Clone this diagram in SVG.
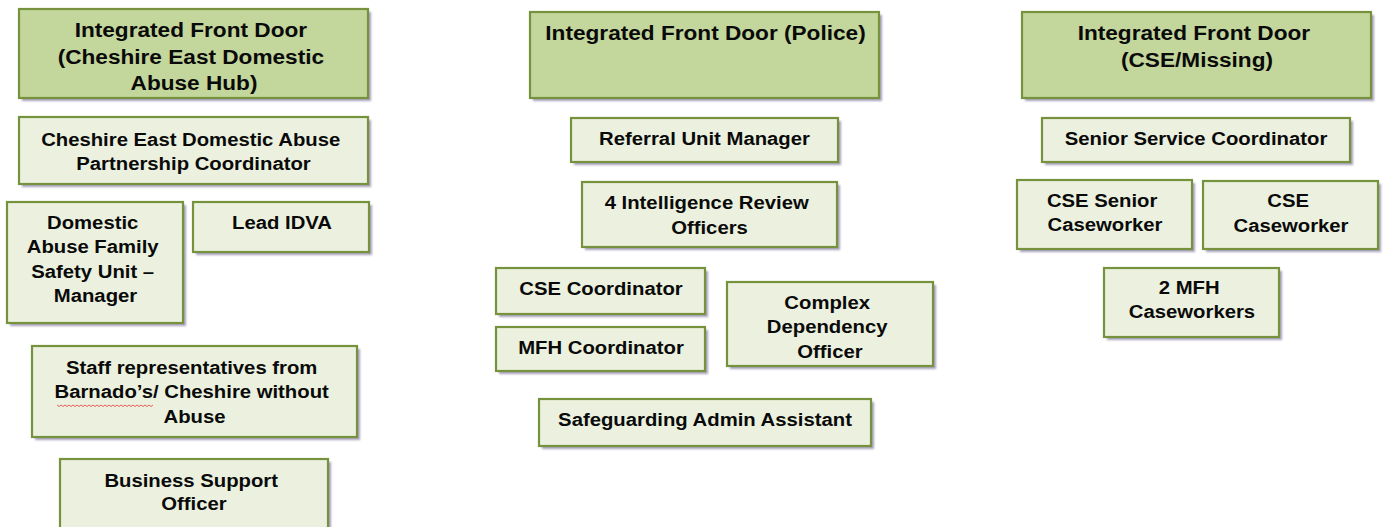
<svg xmlns="http://www.w3.org/2000/svg" width="1386" height="527" viewBox="0 0 1386 527">
  <defs>
    <filter id="soft" x="-5%" y="-5%" width="110%" height="110%">
      <feGaussianBlur stdDeviation="0.8"/>
    </filter>
  </defs>
  <style>
    .shadow { fill: #a59fb9; filter: url(#soft); }
    .head { fill: #c3d69b; stroke: #76923c; stroke-width: 2.2; }
    .box { fill: #ebf1de; stroke: #76923c; stroke-width: 2.2; }
    text { font-family: "Liberation Sans", Arial, sans-serif; font-weight: bold; fill: #0a0a0a; text-anchor: middle; }
    .ht { font-size: 19.5px; }
    .nt { font-size: 17.5px; }
    .squiggle { fill: none; stroke: #e8605c; stroke-width: 1; }
  </style>
  <rect width="1386" height="527" fill="#ffffff"/>

  <!-- Cheshire East Domestic Abuse Hub column -->
  <g id="hub-head">
    <rect class="shadow" x="22" y="12" width="349" height="89"/>
    <rect class="head" x="19" y="9" width="349" height="89"/>
    <text class="ht" transform="translate(194,0) scale(1.16,1)">
      <tspan x="0" y="37.5">Integrated Front Door</tspan>
      <tspan x="0" y="64">(Cheshire East Domestic</tspan>
      <tspan x="0" y="90.5">Abuse Hub)</tspan>
    </text>
  </g>
  <g id="hub-coordinator">
    <rect class="shadow" x="22" y="120" width="349" height="67"/>
    <rect class="box" x="19" y="117" width="349" height="67"/>
    <text class="nt" transform="translate(193.5,0) scale(1.16,1)">
      <tspan x="0" y="146.5">Cheshire East Domestic Abuse</tspan>
      <tspan x="0" y="170.5">Partnership Coordinator</tspan>
    </text>
  </g>
  <g id="hub-family-safety">
    <rect class="shadow" x="10" y="205" width="176" height="121"/>
    <rect class="box" x="7" y="202" width="176" height="121"/>
    <text class="nt" transform="translate(95.5,0) scale(1.16,1)">
      <tspan x="0" y="229">Domestic</tspan>
      <tspan x="0" y="253.5">Abuse Family</tspan>
      <tspan x="0" y="278">Safety Unit –</tspan>
      <tspan x="0" y="302.5">Manager</tspan>
    </text>
  </g>
  <g id="hub-lead-idva">
    <rect class="shadow" x="196" y="205" width="176" height="50"/>
    <rect class="box" x="193" y="202" width="176" height="50"/>
    <text class="nt" transform="translate(282,0) scale(1.16,1)">
      <tspan x="0" y="229">Lead IDVA</tspan>
    </text>
  </g>
  <g id="hub-staff-reps">
    <rect class="shadow" x="35" y="349" width="325" height="91"/>
    <rect class="box" x="32" y="346" width="325" height="91"/>
    <text class="nt" transform="translate(194.5,0) scale(1.16,1)">
      <tspan x="0" y="374.5">Staff representatives from</tspan>
      <tspan x="0" y="398.5">Barnado’s/ Cheshire without</tspan>
      <tspan x="0" y="423">Abuse</tspan>
    </text>
    <path class="squiggle" d="M57 405 l2 1.5 l2 -1.5 l2 1.5 l2 -1.5 l2 1.5 l2 -1.5 l2 1.5 l2 -1.5 l2 1.5 l2 -1.5 l2 1.5 l2 -1.5 l2 1.5 l2 -1.5 l2 1.5 l2 -1.5 l2 1.5 l2 -1.5 l2 1.5 l2 -1.5 l2 1.5 l2 -1.5 l2 1.5 l2 -1.5 l2 1.5 l2 -1.5 l2 1.5 l2 -1.5 l2 1.5 l2 -1.5 l2 1.5 l2 -1.5 l2 1.5 l2 -1.5 l2 1.5 l2 -1.5 l2 1.5 l2 -1.5 l2 1.5 l2 -1.5 l2 1.5 l2 -1.5 l2 1.5 l2 -1.5 l2 1.5 l2 -1.5 l2 1.5 l2 -1.5"/>
  </g>
  <g id="hub-business-support">
    <rect class="shadow" x="63" y="462" width="268" height="80"/>
    <rect class="box" x="60" y="459" width="268" height="80"/>
    <text class="nt" transform="translate(194,0) scale(1.16,1)">
      <tspan x="0" y="487">Business Support</tspan>
      <tspan x="0" y="510.5">Officer</tspan>
    </text>
  </g>

  <!-- Police column -->
  <g id="police-head">
    <rect class="shadow" x="533" y="15" width="349" height="86"/>
    <rect class="head" x="530" y="12" width="349" height="86"/>
    <text class="ht" transform="translate(705.5,0) scale(1.16,1)">
      <tspan x="0" y="40">Integrated Front Door (Police)</tspan>
    </text>
  </g>
  <g id="police-referral-manager">
    <rect class="shadow" x="574" y="121" width="267" height="44"/>
    <rect class="box" x="571" y="118" width="267" height="44"/>
    <text class="nt" transform="translate(704.5,0) scale(1.16,1)">
      <tspan x="0" y="145.5">Referral Unit Manager</tspan>
    </text>
  </g>
  <g id="police-intelligence">
    <rect class="shadow" x="585" y="185" width="255" height="65"/>
    <rect class="box" x="582" y="182" width="255" height="65"/>
    <text class="nt" transform="translate(709.5,0) scale(1.16,1)">
      <tspan x="0" y="209.5">4 Intelligence Review</tspan>
      <tspan x="0" y="234">Officers</tspan>
    </text>
  </g>
  <g id="police-cse-coordinator">
    <rect class="shadow" x="499" y="271" width="209" height="46"/>
    <rect class="box" x="496" y="268" width="209" height="46"/>
    <text class="nt" transform="translate(601,0) scale(1.16,1)">
      <tspan x="0" y="295">CSE Coordinator</tspan>
    </text>
  </g>
  <g id="police-mfh-coordinator">
    <rect class="shadow" x="499" y="330" width="209" height="44"/>
    <rect class="box" x="496" y="327" width="209" height="44"/>
    <text class="nt" transform="translate(601,0) scale(1.16,1)">
      <tspan x="0" y="354">MFH Coordinator</tspan>
    </text>
  </g>
  <g id="police-complex-dependency">
    <rect class="shadow" x="730" y="285" width="206" height="84"/>
    <rect class="box" x="727" y="282" width="206" height="84"/>
    <text class="nt" transform="translate(830,0) scale(1.16,1)">
      <tspan x="0" y="309">Complex</tspan>
      <tspan x="0" y="333.5">Dependency</tspan>
      <tspan x="0" y="358">Officer</tspan>
    </text>
  </g>
  <g id="police-admin-assistant">
    <rect class="shadow" x="542" y="402" width="332" height="47"/>
    <rect class="box" x="539" y="399" width="332" height="47"/>
    <text class="nt" transform="translate(705,0) scale(1.16,1)">
      <tspan x="0" y="426.5">Safeguarding Admin Assistant</tspan>
    </text>
  </g>

  <!-- CSE / Missing column -->
  <g id="cse-head">
    <rect class="shadow" x="1025" y="15" width="349" height="86"/>
    <rect class="head" x="1022" y="12" width="349" height="86"/>
    <text class="ht" transform="translate(1197,0) scale(1.16,1)">
      <tspan x="0" y="40">Integrated Front Door</tspan>
      <tspan x="0" y="67">(CSE/Missing)</tspan>
    </text>
  </g>
  <g id="cse-senior-coordinator">
    <rect class="shadow" x="1045" y="121" width="308" height="44"/>
    <rect class="box" x="1042" y="118" width="308" height="44"/>
    <text class="nt" transform="translate(1196,0) scale(1.16,1)">
      <tspan x="0" y="145.5">Senior Service Coordinator</tspan>
    </text>
  </g>
  <g id="cse-senior-caseworker">
    <rect class="shadow" x="1020" y="183" width="175" height="69"/>
    <rect class="box" x="1017" y="180" width="175" height="69"/>
    <text class="nt" transform="translate(1105,0) scale(1.16,1)">
      <tspan x="0" y="207">CSE Senior</tspan>
      <tspan x="0" y="231">Caseworker</tspan>
    </text>
  </g>
  <g id="cse-caseworker">
    <rect class="shadow" x="1206" y="184" width="175" height="68"/>
    <rect class="box" x="1203" y="181" width="175" height="68"/>
    <text class="nt" transform="translate(1291,0) scale(1.16,1)">
      <tspan x="0" y="207.5">CSE</tspan>
      <tspan x="0" y="232">Caseworker</tspan>
    </text>
  </g>
  <g id="cse-mfh-caseworkers">
    <rect class="shadow" x="1107" y="271" width="175" height="69"/>
    <rect class="box" x="1104" y="268" width="175" height="69"/>
    <text class="nt" transform="translate(1192,0) scale(1.16,1)">
      <tspan x="0" y="294.5">2 MFH</tspan>
      <tspan x="0" y="318.5">Caseworkers</tspan>
    </text>
  </g>

  <!-- no connectors are drawn between these boxes -->
  <g id="connectors"/>
</svg>
